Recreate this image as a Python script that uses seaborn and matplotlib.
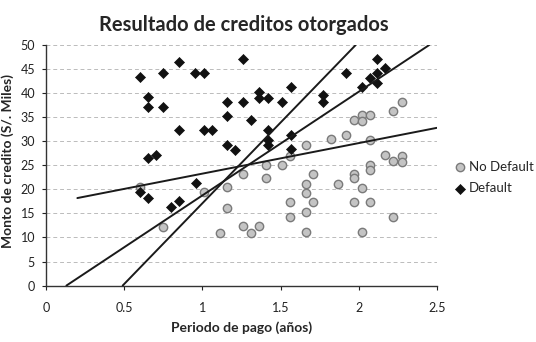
import numpy as np
import pandas as pd
import matplotlib
matplotlib.use("Agg")
import matplotlib.pyplot as plt
import seaborn as sns

# Datos
# Default (rombos negros)
default_x = [0.60, 0.65, 0.65, 0.65, 0.70, 0.60, 0.65, 0.75, 0.75, 0.85, 0.85, 0.80, 0.85,
             0.95, 1.01, 0.96, 1.01, 1.06, 1.16, 1.16, 1.16, 1.21, 1.26, 1.26, 1.31, 1.36,
             1.36, 1.42, 1.42, 1.42, 1.42, 1.51, 1.57, 1.57, 1.57, 1.77, 1.77, 1.92, 2.02,
             2.07, 2.12, 2.12, 2.12, 2.17]
default_y = [43.3, 39.3, 37.2, 26.5, 27.2, 19.4, 18.3, 44.3, 37.2, 46.4, 32.3, 16.4, 17.5,
             44.3, 44.3, 21.3, 32.3, 32.3, 38.2, 35.3, 29.2, 28.2, 47.2, 38.2, 34.4, 40.3,
             39.1, 39.1, 32.3, 30.2, 29.2, 38.2, 41.3, 31.3, 28.3, 39.6, 38.2, 44.3, 41.3,
             43.2, 47.2, 44.3, 42.2, 45.2]

# No Default (circulos grises)
nodef_x = [0.60, 0.75, 1.01, 1.11, 1.16, 1.16, 1.26, 1.26, 1.31, 1.36, 1.41, 1.41, 1.51,
           1.56, 1.56, 1.56, 1.66, 1.66, 1.66, 1.66, 1.66, 1.71, 1.71, 1.82, 1.87, 1.92,
           1.97, 1.97, 1.97, 1.97, 2.02, 2.02, 2.02, 2.02, 2.07, 2.07, 2.07, 2.07, 2.07,
           2.17, 2.22, 2.22, 2.22, 2.28, 2.28, 2.28]
nodef_y = [20.5, 12.2, 19.4, 11.0, 20.5, 16.2, 23.3, 12.3, 11.0, 12.3, 25.0, 22.3, 25.0,
           17.3, 14.3, 27.0, 29.2, 21.2, 19.3, 15.3, 11.2, 23.3, 17.3, 30.4, 21.2, 31.3,
           34.4, 23.3, 22.3, 17.3, 35.4, 34.2, 20.2, 11.2, 35.4, 30.2, 25.0, 24.0, 17.3,
           27.1, 36.3, 26.0, 14.3, 38.2, 27.0, 25.7]

# Rectas de separacion (extremos)
linea1_x = [0.20, 2.50]
linea1_y = [18.2, 32.8]
linea2_x = [0.13, 2.45]
linea2_y = [0.0, 50.0]
linea3_x = [0.49, 1.98]
linea3_y = [0.0, 50.0]

x_ticks = [0, 0.5, 1, 1.5, 2, 2.5]
y_ticks = [0, 5, 10, 15, 20, 25, 30, 35, 40, 45, 50]

sns.set_style("white")
plt.rcParams['font.family'] = ['Lato', 'DejaVu Sans']

fig = plt.figure(figsize=(5.36, 3.42), dpi=100)
ax = fig.add_axes([0.086, 0.165, 0.729, 0.703])

df_def = pd.DataFrame({'x': default_x, 'y': default_y})
df_nod = pd.DataFrame({'x': nodef_x, 'y': nodef_y})

sns.scatterplot(data=df_nod, x='x', y='y', ax=ax, marker='o', s=36,
                color='#c4c4c4', edgecolor='#7a7a7a', linewidth=1.0,
                label='No Default', zorder=3)
sns.scatterplot(data=df_def, x='x', y='y', ax=ax, marker='D', s=26,
                color='#111111', edgecolor='#111111', linewidth=0.5,
                label='Default', zorder=4)

for lx, ly in [(linea1_x, linea1_y), (linea2_x, linea2_y), (linea3_x, linea3_y)]:
    sns.lineplot(x=lx, y=ly, ax=ax, color='#1a1a1a', linewidth=1.4, zorder=5)

ax.set_xlim(0, 2.5)
ax.set_ylim(0, 50)
ax.set_xticks(x_ticks)
ax.set_xticklabels(['0', '0.5', '1', '1.5', '2', '2.5'])
ax.set_yticks(y_ticks)
ax.tick_params(axis='both', labelsize=9, colors='#222222', length=3, direction='out')
ax.tick_params(axis='x', pad=9)
ax.tick_params(axis='y', pad=5)
ax.xaxis.set_ticks_position('bottom')
ax.yaxis.set_ticks_position('left')

ax.yaxis.grid(True, color='#bbbbbb', linestyle=(0, (4, 3)), linewidth=0.7)
ax.xaxis.grid(False)
sns.despine(ax=ax)
for side in ['left', 'bottom']:
    ax.spines[side].set_color('#333333')
    ax.spines[side].set_linewidth(1.0)

ax.set_title('Resultado de creditos otorgados', fontsize=14.5, fontweight='bold', pad=10,
             x=0.505)
ax.set_xlabel('Periodo de pago (años)', fontsize=10, fontweight='bold', labelpad=5)
ax.set_ylabel('Monto de credito (S/. Miles)', fontsize=10, fontweight='bold')
ax.yaxis.set_label_coords(-0.082, 0.52)

ax.legend(loc='center left', bbox_to_anchor=(1.025, 0.45), frameon=False,
          fontsize=9.5, handletextpad=0.1, labelspacing=0.7, borderaxespad=0,
          handlelength=1.2)

fig.savefig('out.png', dpi=100)
